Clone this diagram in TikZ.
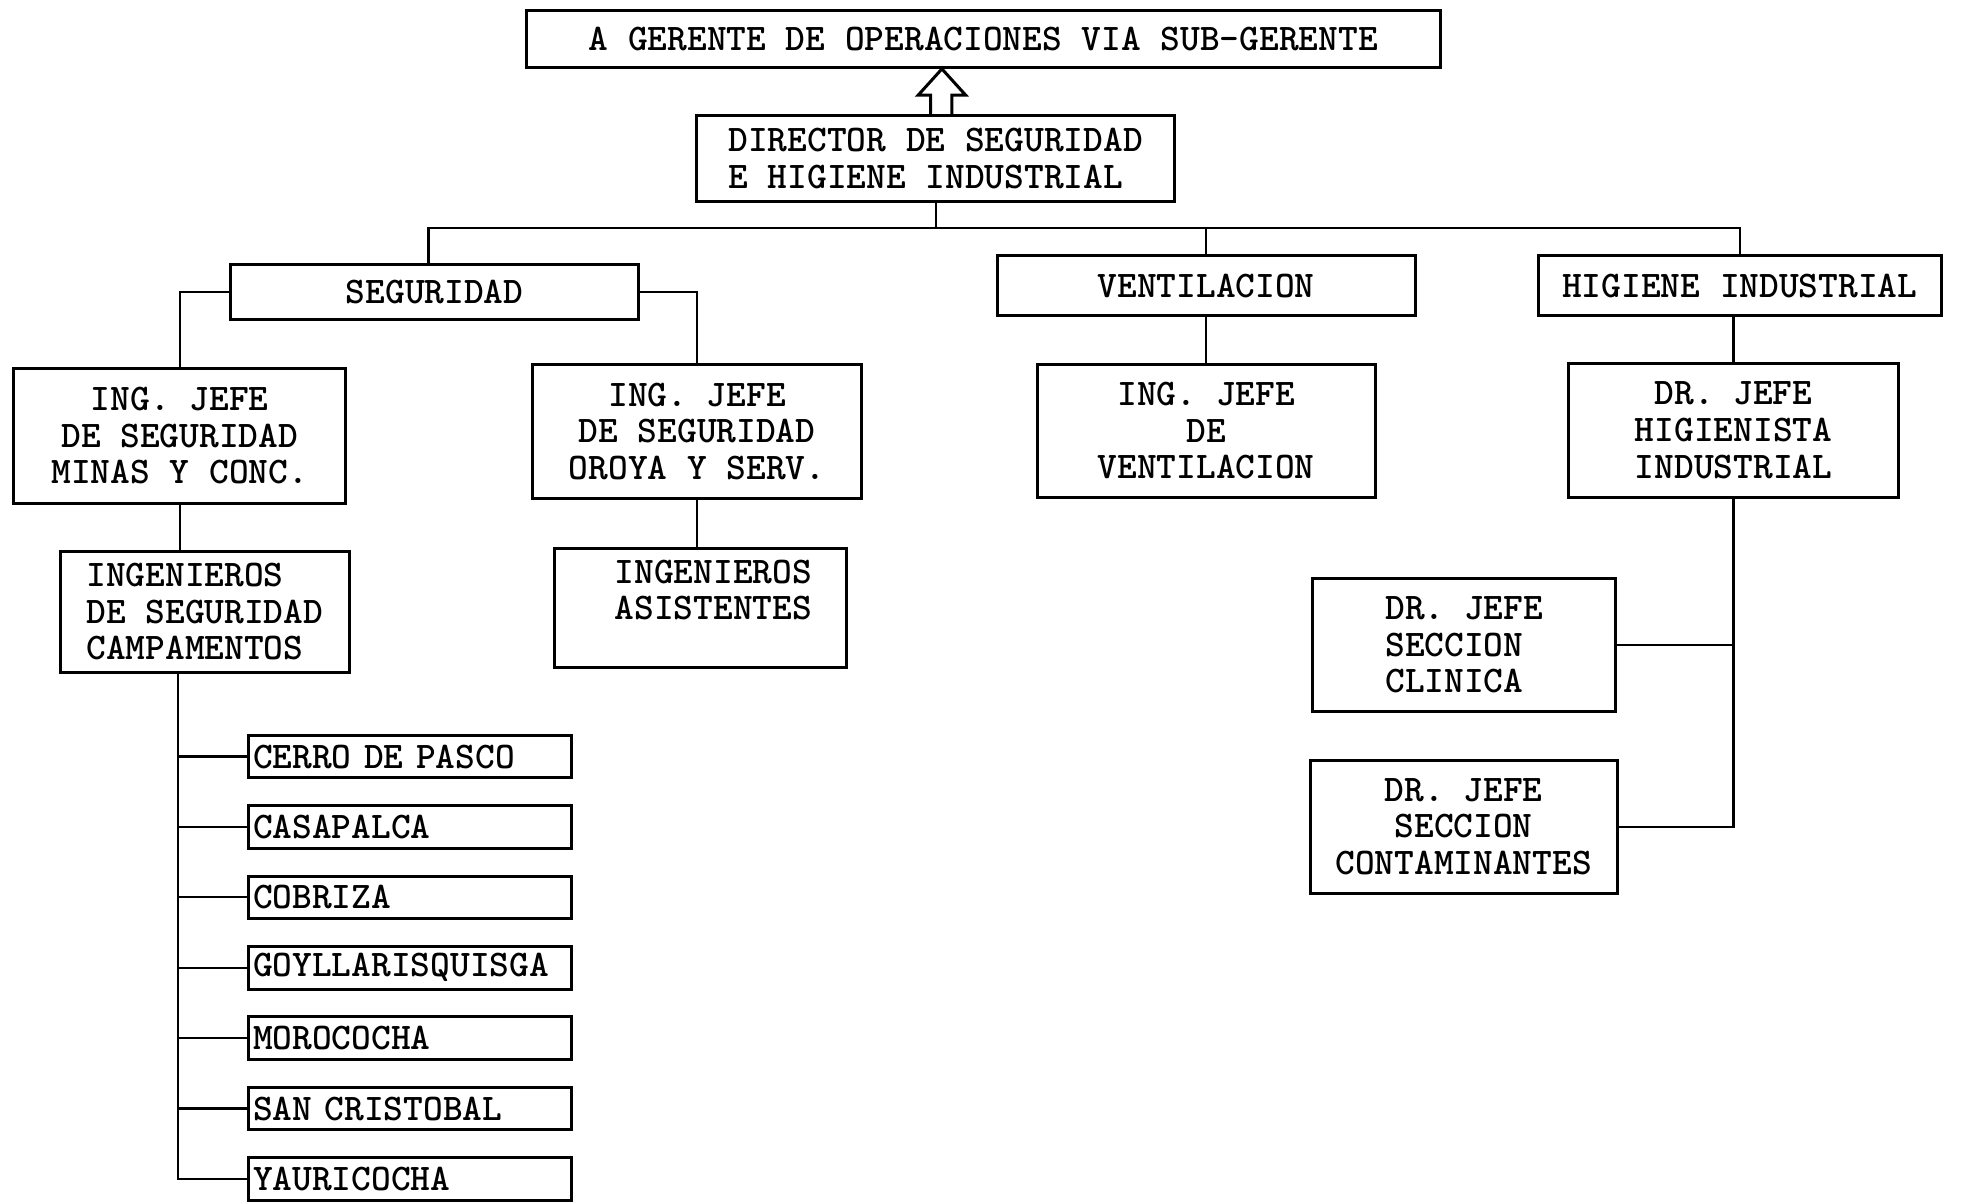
\documentclass[tikz,border=0pt]{standalone}
\usetikzlibrary{positioning}

\begin{document}
\begin{tikzpicture}[
        x=0.5pt, y=-0.5pt,
        % Box style: typed boxes
        box/.style={
                draw, line width=1.2pt,
                inner sep=2pt,
                font=\ttfamily\bfseries\fontsize{15}{14.6}\selectfont
            },
        campbox/.style={box, inner ysep=1pt, text width=125pt, align=left,
                minimum height=17pt},
        % Connector style
        link/.style={line width=0.9pt},
        node distance=9.9pt
    ]
    \useasboundingbox (0,0) rectangle (1568,960);

    %% ---- Top of the chart ----
    \node[box, minimum width=365pt, minimum height=23pt] (gerente) at (785,31)
    {A GERENTE DE OPERACIONES VIA SUB-GERENTE};
    \node[box, align=left, minimum width=191pt, minimum height=34.5pt] (director) at (747,126.5)
    {DIRECTOR DE SEGURIDAD\\E HIGIENE INDUSTRIAL};

    %% ---- Departments ----
    \node[box, minimum width=163pt, minimum height=22pt] (seguridad) at (347,233) {SEGURIDAD};
    \node[box, minimum width=167pt, minimum height=24pt] (ventilacion) at (963,228) {VENTILACION};
    \node[box, minimum width=161pt, minimum height=24pt] (higiene) at (1389,228) {HIGIENE INDUSTRIAL};

    %% ---- Chiefs ----
    \node[box, align=center, minimum width=132.5pt, minimum height=54pt] (minas) at (143.5,348)
    {ING. JEFE\\DE SEGURIDAD\\MINAS Y CONC.};
    \node[box, align=center, minimum width=131.5pt, minimum height=53.5pt] (oroya) at (556.5,344.5)
    {ING. JEFE\\DE SEGURIDAD\\OROYA Y SERV.};
    \node[box, align=center, minimum width=135pt, minimum height=53pt] (jefevent) at (963,344)
    {ING. JEFE\\DE\\VENTILACION};
    \node[box, align=center, minimum width=132pt, minimum height=53.5pt] (higienista) at (1384,343.5)
    {DR. JEFE\\HIGIENISTA\\INDUSTRIAL};

    %% ---- Staff ----
    \node[box, align=left, minimum width=115.5pt, minimum height=48.5pt] (campamentos) at (163.5,488.5)
    {INGENIEROS\\DE SEGURIDAD\\CAMPAMENTOS};
    \node[box, align=center, minimum width=116.5pt, minimum height=47.5pt] (asistentes) at (559.5,485.5)
    {\hspace*{10pt}INGENIEROS\\\hspace*{10pt}ASISTENTES\\\mbox{}};
    \node[box, align=left, minimum width=121pt, minimum height=53pt] (clinica) at (1169,515)
    {DR. JEFE\\SECCION\\CLINICA};
    \node[box, align=center, minimum width=122.5pt, minimum height=53pt] (contaminantes) at (1168.5,660)
    {DR. JEFE\\SECCION\\CONTAMINANTES};

    %% ---- Camps ----
    \node[campbox] (pasco) at (327,604) {CERRO DE PASCO};
    \node[campbox, below=of pasco] (casapalca) {CASAPALCA};
    \node[campbox, below=of casapalca] (cobriza) {COBRIZA};
    \node[campbox, below=of cobriza] (goyllar) {GOYLLARISQUISGA};
    \node[campbox, below=of goyllar] (morococha) {MOROCOCHA};
    \node[campbox, below=of morococha] (cristobal) {SAN CRISTOBAL};
    \node[campbox, below=of cristobal] (yauricocha) {YAURICOCHA};

    %% ---- Hollow arrow up to the manager ----
    \draw[line width=1.2pt] (743,92) -- (743,76) -- (733,76) -- (752,55)
    -- (771,76) -- (760,76) -- (760,92);

    %% ---- Director to departments ----
    \draw[link] (director.south) -- ++(0,20) -| ([xshift=-2.5pt]seguridad.north);
    \draw[link] (director.south) -- ++(0,20) -| (ventilacion.north);
    \draw[link] (director.south) -- ++(0,20) -| (higiene.north);

    %% ---- Departments to chiefs ----
    \draw[link] (seguridad.west) -| (minas.north);
    \draw[link] (seguridad.east) -| (oroya.north);
    \draw[link] (ventilacion.south) -- (jefevent.north);
    \draw[link] (higienista.north |- higiene.south) -- (higienista.north);

    %% ---- Chiefs to staff ----
    \draw[link] (minas.south) -- (minas.south |- campamentos.north);
    \draw[link] (oroya.south) -- (oroya.south |- asistentes.north);
    \draw[link] (higienista.south) |- (contaminantes.east);
    \draw[link] (higienista.south |- clinica.east) -- (clinica.east);

    %% ---- Camps trunk ----
    \coordinate (trunk) at (142,537);
    \draw[link] (trunk) |- (yauricocha.west);
    \draw[link] (trunk |- pasco.west) -- (pasco.west);
    \draw[link] (trunk |- casapalca.west) -- (casapalca.west);
    \draw[link] (trunk |- cobriza.west) -- (cobriza.west);
    \draw[link] (trunk |- goyllar.west) -- (goyllar.west);
    \draw[link] (trunk |- morococha.west) -- (morococha.west);
    \draw[link] (trunk |- cristobal.west) -- (cristobal.west);

\end{tikzpicture}
\end{document}
